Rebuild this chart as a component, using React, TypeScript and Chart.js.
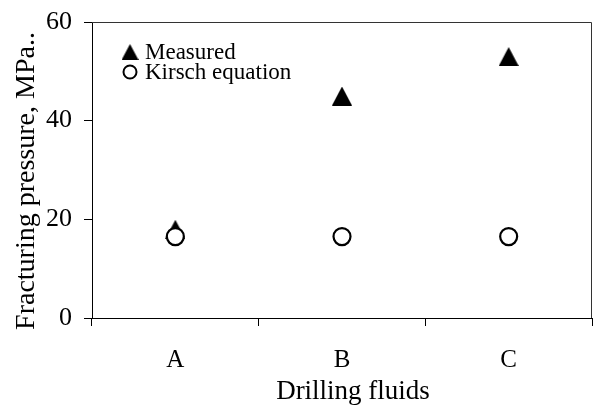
import React, { useEffect, useRef } from "react";
import { Chart, registerables } from "chart.js";

Chart.register(...registerables);

const categories = ["A", "B", "C"];
const measured = [18, 45, 53];
const kirsch = [16.5, 16.5, 16.5];
const yMin = 0;
const yMax = 60;
const yStep = 20;
const seriesNames = ["Measured", "Kirsch equation"];
const xTitle = "Drilling fluids";
const yTitle = "Fracturing pressure, MPa..";

const FONT = "'Liberation Serif', 'Times New Roman', serif";

function makeTriangle(w: number, h: number) {
  const c = document.createElement("canvas");
  c.width = w;
  c.height = h;
  const ctx = c.getContext("2d")!;
  ctx.fillStyle = "#000";
  ctx.beginPath();
  ctx.moveTo(w / 2, 0);
  ctx.lineTo(w, h);
  ctx.lineTo(0, h);
  ctx.closePath();
  ctx.fill();
  return c;
}

export default function App() {
  const ref = useRef<HTMLCanvasElement>(null);
  useEffect(() => {
    if (!ref.current) return;
    const tri = makeTriangle(20, 19);
    const triSmall = makeTriangle(17, 16);
    const frame = {
      id: "frame",
      afterDatasetsDraw(chart: any) {
        const { ctx, chartArea } = chart;
        ctx.save();
        ctx.strokeStyle = "#333";
        ctx.lineWidth = 1;
        ctx.beginPath();
        ctx.moveTo(chartArea.left, chartArea.top + 0.5);
        ctx.lineTo(chartArea.right - 0.5, chartArea.top + 0.5);
        ctx.lineTo(chartArea.right - 0.5, chartArea.bottom);
        ctx.stroke();
        // legend
        const lx = 130;
        const ly1 = 52;
        const ly2 = 72;
        ctx.drawImage(triSmall, lx - 8.5, ly1 - 8);
        ctx.beginPath();
        ctx.arc(lx, ly2, 6.5, 0, Math.PI * 2);
        ctx.fillStyle = "#fff";
        ctx.fill();
        ctx.lineWidth = 2;
        ctx.strokeStyle = "#000";
        ctx.stroke();
        ctx.fillStyle = "#000";
        ctx.font = `23px ${FONT}`;
        ctx.textBaseline = "middle";
        ctx.textAlign = "left";
        ctx.fillText(chart.data.datasets[0].label, 145, ly1 + 1);
        ctx.fillText(chart.data.datasets[1].label, 145, ly2 + 1);
        // axis titles
        ctx.textAlign = "center";
        ctx.textBaseline = "alphabetic";
        ctx.font = `27px ${FONT}`;
        ctx.fillText(xTitle, 353, 399);
        ctx.save();
        ctx.translate(27, 181);
        ctx.rotate(-Math.PI / 2);
        ctx.textBaseline = "middle";
        ctx.font = `28px ${FONT}`;
        ctx.fillText(yTitle, 0, 0);
        ctx.restore();
        ctx.restore();
      },
    };
    const chart = new Chart(ref.current, {
      type: "line",
      data: {
        labels: categories,
        datasets: [
          {
            label: seriesNames[0],
            data: measured,
            showLine: false,
            pointStyle: tri as any,
            pointRadius: 10,
            order: 1,
          },
          {
            label: seriesNames[1],
            data: kirsch,
            showLine: false,
            pointStyle: "circle",
            pointRadius: 8.5,
            borderWidth: 2.2,
            pointBorderWidth: 2.2,
            borderColor: "#000",
            pointBackgroundColor: "#fff",
            pointBorderColor: "#000",
            order: 0,
          },
        ],
      },
      options: {
        responsive: false,
        animation: false,
        layout: { autoPadding: false, padding: { top: 22, right: 3, left: 0, bottom: 0 } },
        plugins: { legend: { display: false }, tooltip: { enabled: false } },
        scales: {
          x: {
            type: "category",
            offset: true,
            afterFit: (s: any) => {
              s.height = 88;
              s.paddingLeft = 0;
              s.paddingRight = 0;
            },
            grid: {
              offset: true,
              drawOnChartArea: false,
              tickLength: 8,
              color: "#000",
            },
            border: { color: "#000", width: 1 },
            ticks: {
              color: "#000",
              font: { family: FONT, size: 25 },
              padding: 19,
            },
            title: { display: false },
          },
          y: {
            min: yMin,
            max: yMax,
            afterFit: (s: any) => {
              s.width = 92;
              s.paddingTop = 0;
              s.paddingBottom = 0;
            },
            grid: {
              drawOnChartArea: false,
              tickLength: 8,
              color: "#000",
            },
            border: { color: "#000", width: 1 },
            ticks: {
              stepSize: yStep,
              color: "#000",
              font: { family: FONT, size: 26 },
              padding: 12,
            },
            title: { display: false },
          },
        },
      },
      plugins: [frame],
    });
    return () => chart.destroy();
  }, []);
  return (
    <div style={{ position: "absolute", left: 0, top: 0, width: 595, height: 406, background: "#fff" }}>
      <canvas ref={ref} width={595} height={406} style={{ display: "block" }} />
    </div>
  );
}
